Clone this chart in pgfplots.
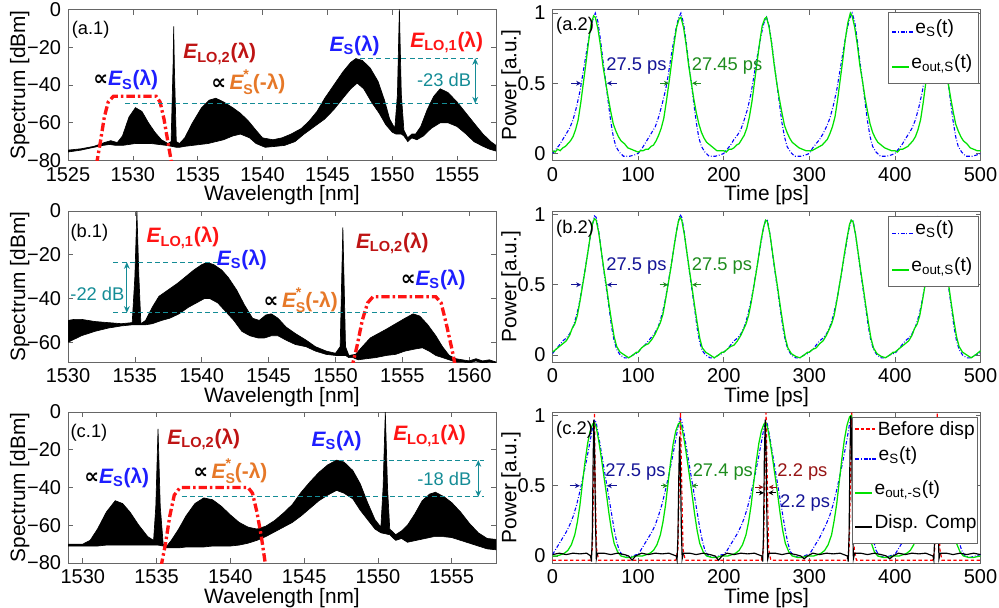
\documentclass[border=0pt]{standalone}
\usepackage{fontspec}
\setmainfont{Liberation Sans}
\newfontfamily\dejavu{DejaVu Sans}
\usepackage{pgfplots}
\pgfplotsset{compat=1.18}
\usetikzlibrary{arrows.meta}

\definecolor{esblue}{RGB}{30,30,255}
\definecolor{lotwo}{RGB}{190,20,20}
\definecolor{loone}{RGB}{255,20,20}
\definecolor{esorange}{RGB}{230,120,40}
\definecolor{tealc}{RGB}{20,140,150}
\definecolor{navyc}{RGB}{20,20,150}
\definecolor{dgreen}{RGB}{30,140,30}
\definecolor{dred}{RGB}{150,20,20}
\definecolor{lgreen}{RGB}{0,225,0}
\definecolor{filt}{RGB}{255,20,20}

\newcommand{\elab}{\fontsize{12.5}{14}\selectfont}
\newcommand{\tlab}{\fontsize{11}{13}\selectfont}
\newcommand{\legf}{\fontsize{11.5}{13}\selectfont}
\newcommand{\EL}[1]{{\bfseries\itshape E}{\bfseries\textsubscript{LO,#1}(λ)}}
\newcommand{\ES}{{\bfseries\itshape E}{\bfseries\textsubscript{S}(λ)}}
\newcommand{\ESc}{{\bfseries\itshape E}{\bfseries\raisebox{-0.45ex}{\fontsize{8.5}{8.5}\selectfont\shortstack[l]{*\\S}}(-λ)}}
\newcommand{\prop}{{\dejavu\bfseries ∝}}
% legend samples made of rules (coloured like text)
\newcommand{\lsolid}[1]{\textcolor{#1}{\rule[0.3pt]{10pt}{1.2pt}}}
\newcommand{\ldash}[1]{\textcolor{#1}{\rule[0.3em]{2pt}{1.1pt}\hspace{1.3pt}\rule[0.3em]{2pt}{1.1pt}\hspace{1.3pt}\rule[0.3em]{2pt}{1.1pt}\hspace{1.3pt}\rule[0.3em]{2pt}{1.1pt}}}
\newcommand{\ldashdot}[1]{\textcolor{#1}{\rule[0.3pt]{2.4pt}{1.1pt}\hspace{0.9pt}\rule[0.3pt]{0.8pt}{1.1pt}\hspace{0.9pt}\rule[0.3pt]{2.4pt}{1.1pt}\hspace{0.9pt}\rule[0.3pt]{0.8pt}{1.1pt}\hspace{0.9pt}\rule[0.3pt]{2.4pt}{1.1pt}}}

\tikzset{
  filter/.style={draw=filt, line width=2pt, dash pattern=on 5pt off 1.8pt on 1.5pt off 1.8pt},
  tdash/.style={tealc, line width=0.6pt, dash pattern=on 3pt off 2pt},
  tarr/.style={tealc, line width=0.6pt, {Stealth[length=4pt,width=3.5pt]}-{Stealth[length=4pt,width=3.5pt]}},
  fw/.style={line width=0.6pt, -{Stealth[length=3pt,width=3pt]}},
  bluel/.style={draw=blue, line width=0.65pt, dash pattern=on 2.2pt off 1.1pt on 0.5pt off 1.1pt},
  greenl/.style={draw=lgreen, line width=0.75pt},
  redl/.style={draw=red, line width=0.7pt, dash pattern=on 2pt off 1.5pt},
  blackl/.style={draw=black, line width=0.7pt},
  ann/.style={inner sep=0.5pt},
  legbox/.style={draw=black!60, fill=white, line width=0.4pt},
  legtxt/.style={anchor=base west, inner sep=0pt, font=\legf},
}

\pgfplotsset{
  panel/.style={
    scale only axis, width=256.8pt, height=90.6pt,
    axis line style={black!60, line width=0.4pt},
    every tick/.style={black!60, line width=0.4pt},
    major tick length=3pt, tick align=inside,
    ticklabel style={font=\fontsize{12}{13}\selectfont},
    xticklabel style={inner sep=1pt, yshift=-3pt},
    yticklabel style={inner sep=1pt, xshift=-3pt},
    label style={font=\fontsize{12.5}{14}\selectfont},
    xlabel style={at={(axis description cs:0.5,-0.23)}, anchor=center},
    /pgf/number format/assume math mode=true,
    /pgf/number format/1000 sep={},
  },
  spec/.style={panel, xlabel={Wavelength [nm]}, ylabel={Spectrum [dBm]},
    ylabel style={at={(axis description cs:-0.113,0.5)}, anchor=center}},
  timep/.style={panel, xmin=0, xmax=500, ymin=-0.05, ymax=1.025,
    xtick={0,100,200,300,400,500}, ytick={0,0.5,1},
    xlabel={Time [ps]}, ylabel={Power [a.u.]},
    ylabel style={at={(axis description cs:-0.097,0.5)}, anchor=center}},
}

\begin{document}
\begin{tikzpicture}
\path[use as bounding box] (0,0) rectangle (599.4pt,-364.2pt);

% ---------------- (a.1)
\begin{axis}[spec, at={(40.8pt,-96.3pt)}, anchor=south west,
  xmin=1525, xmax=1558, ymin=-80, ymax=0,
  xtick={1525,1530,1535,1540,1545,1550,1555},
  ytick={-80,-60,-40,-20,0}, yticklabels={−80,−60,−40,−20,0}]
\addplot[fill=black, draw=black, line width=0.4pt] coordinates {
(1525,-74.5)(1526,-73.8)(1527,-72.5)(1527.8,-70.5)(1528.3,-69.5)(1528.8,-70.5)(1529.2,-67)(1529.7,-57)(1530.2,-52)(1530.7,-54)(1531.2,-60)(1531.7,-65)(1532.2,-69)(1532.7,-71)(1532.95,-70)(1533.1,-30)(1533.15,-9)(1533.2,-30)(1533.35,-70)(1533.6,-71)(1534,-68)(1534.6,-60)(1535.3,-52)(1535.9,-48)(1536.4,-47)(1537,-49)(1537.7,-52)(1538.3,-55)(1538.9,-59)(1539.5,-64)(1540,-68)(1540.8,-69)(1541.5,-68)(1542.2,-66)(1543,-63)(1543.6,-59)(1544.2,-54)(1544.8,-47)(1545.5,-40)(1546.2,-33)(1546.8,-28)(1547.2,-26)(1547.7,-27)(1548.3,-31)(1548.9,-38)(1549.4,-48)(1549.8,-58)(1550.2,-63)(1550.4,-45)(1550.55,0)(1550.7,-45)(1550.9,-64)(1551.2,-68)(1551.5,-66)(1551.8,-66)(1552.2,-62)(1552.7,-53)(1553.2,-46)(1553.7,-42)(1554.3,-44)(1555,-49)(1555.7,-55)(1556.4,-61)(1557,-66)(1557.6,-70)(1558,-72)
(1558,-75)(1557.5,-74)(1557,-72.5)(1556.3,-70)(1555.7,-66)(1555,-62)(1554.3,-60)(1553.7,-60)(1553,-63)(1552.4,-67)(1551.9,-69)(1551.5,-68)(1551.2,-70)(1550.9,-67)(1550.7,-66)(1550.3,-66)(1550,-65)(1549.5,-61)(1549,-55)(1548.4,-49)(1547.8,-42)(1547.3,-39)(1546.8,-42)(1546.2,-47)(1545.5,-53)(1544.8,-58)(1544,-62)(1543.2,-66)(1542.5,-70)(1541.7,-72)(1541,-72.5)(1540.2,-73)(1539.5,-71)(1539,-68)(1538.3,-66)(1537.7,-67)(1537,-69)(1536.4,-70)(1535.8,-71)(1535.2,-71.5)(1534.6,-72)(1534,-72.5)(1533.6,-73)(1533.35,-73)(1533.0,-72.5)(1532.6,-72)(1532,-71.5)(1531.4,-71)(1530.8,-71)(1530.2,-71)(1529.7,-71.5)(1529.2,-72)(1528.7,-72)(1528.2,-71.5)(1527.7,-72)(1527,-73)(1526,-74.5)(1525,-75.5)
} -- cycle;
\addplot[filter] coordinates {(1527.2,-82)(1527.5,-70)(1527.8,-57)(1528.1,-49)(1528.5,-46)(1531.8,-46)(1532.1,-49)(1532.4,-58)(1532.7,-70)(1533.0,-82)};
\draw[tdash] (axis cs:1547.5,-25.8) -- (axis cs:1556.6,-25.8);
\draw[tdash] (axis cs:1529.4,-49.8) -- (axis cs:1556.6,-49.8);
\draw[tarr] (axis cs:1556.4,-25.8) -- (axis cs:1556.4,-49.8);
\node[ann, font=\tlab, text=tealc] at (axis cs:1554,-37.2) {-23 dB};
\node[ann, font=\tlab, anchor=west] at (axis cs:1525.2,-10.5) {(a.1)};
\node[ann, font=\elab, text=lotwo] at (axis cs:1536.7,-23.5) {\EL{2}};
\node[ann, font=\elab] at (axis cs:1538.9,-38.6) {\prop\,\textcolor{esorange}{\ESc}};
\node[ann, font=\elab] at (axis cs:1529.45,-37.5) {\prop\textcolor{esblue}{\ES}};
\node[ann, font=\elab, text=esblue] at (axis cs:1547.1,-19) {\ES};
\node[ann, font=\elab, text=loone] at (axis cs:1554.2,-17.4) {\EL{1}};
\end{axis}

% ---------------- (a.2)
\begin{axis}[timep, at={(331.5pt,-96.3pt)}, anchor=south west]
\addplot[bluel] coordinates {
(0,0.00)(4,0.03)(8,0.06)(12,0.10)(16,0.14)(20,0.18)(24,0.24)(28,0.33)(32,0.44)(35,0.55)(38,0.66)(41,0.77)(44,0.87)(47,0.95)(50,1.00)(53,0.94)(56,0.81)(59,0.66)(62,0.52)(65,0.37)(68,0.23)(71,0.12)(74,0.05)(78,0.01)(83,-0.02)(90,-0.02)(96,-0.01)
(100,0.00)(104,0.03)(108,0.07)(112,0.11)(116,0.15)(120,0.19)(124,0.26)(128,0.35)(132,0.45)(135,0.55)(138,0.67)(141,0.78)(144,0.88)(147,0.96)(150,1.00)(153,0.93)(156,0.80)(159,0.65)(162,0.51)(165,0.36)(168,0.22)(171,0.11)(174,0.05)(178,0.01)(183,-0.02)(190,-0.02)(196,-0.01)
(200,0.00)(204,0.03)(208,0.06)(212,0.10)(216,0.13)(220,0.17)(224,0.24)(228,0.32)(232,0.43)(235,0.54)(238,0.65)(241,0.75)(244,0.85)(247,0.93)(250,0.97)(253,0.91)(256,0.79)(259,0.64)(262,0.50)(265,0.36)(268,0.22)(271,0.12)(274,0.05)(278,0.01)(283,-0.02)(290,-0.02)(296,-0.01)
(300,0.00)(304,0.04)(308,0.07)(312,0.10)(316,0.14)(320,0.19)(324,0.25)(328,0.34)(332,0.45)(335,0.56)(338,0.67)(341,0.78)(344,0.88)(347,0.96)(350,1.00)(353,0.94)(356,0.81)(359,0.66)(362,0.52)(365,0.37)(368,0.23)(371,0.12)(374,0.05)(378,0.01)(383,-0.02)(390,-0.02)(396,-0.01)
(400,0.00)(404,0.03)(408,0.06)(412,0.10)(416,0.14)(420,0.18)(424,0.24)(428,0.33)(432,0.44)(435,0.55)(438,0.66)(441,0.77)(444,0.87)(447,0.95)(450,1.00)(453,0.94)(456,0.81)(459,0.66)(462,0.52)(465,0.37)(468,0.23)(471,0.12)(474,0.05)(478,0.01)(483,-0.02)(490,-0.02)(496,-0.01)(500,0.00)
};
\addplot[greenl] coordinates {
(0,0.02)(3,0.01)(6,0.03)(9,0.02)(12,0.04)(15,0.05)(18,0.07)(21,0.09)(24,0.12)(27,0.17)(30,0.24)(33,0.36)(36,0.50)(39,0.64)(42,0.79)(45,0.92)(48,0.98)(50,0.97)(53,0.89)(56,0.77)(59,0.62)(62,0.51)(65,0.40)(68,0.30)(71,0.21)(74,0.16)(77,0.12)(80,0.09)(84,0.07)(88,0.04)(92,0.03)(96,0.02)
(100,0.01)(103,0.02)(106,0.02)(109,0.03)(112,0.03)(115,0.05)(118,0.06)(121,0.09)(124,0.13)(127,0.18)(130,0.25)(133,0.37)(136,0.50)(139,0.64)(142,0.78)(145,0.90)(148,0.96)(150,0.97)(153,0.90)(156,0.78)(159,0.63)(162,0.51)(165,0.39)(168,0.29)(171,0.21)(174,0.15)(177,0.11)(180,0.08)(184,0.06)(188,0.04)(192,0.02)(196,0.02)
(200,0.02)(203,0.01)(206,0.03)(209,0.03)(212,0.04)(215,0.06)(218,0.07)(221,0.10)(224,0.13)(227,0.18)(230,0.26)(233,0.37)(236,0.51)(239,0.65)(242,0.79)(245,0.91)(248,0.96)(250,0.97)(253,0.90)(256,0.78)(259,0.63)(262,0.50)(265,0.39)(268,0.29)(271,0.20)(274,0.15)(277,0.11)(280,0.08)(284,0.06)(288,0.04)(292,0.03)(296,0.02)
(300,0.02)(303,0.02)(306,0.03)(309,0.04)(312,0.05)(315,0.06)(318,0.08)(321,0.10)(324,0.14)(327,0.19)(330,0.26)(333,0.38)(336,0.52)(339,0.66)(342,0.81)(345,0.93)(348,1.00)(350,0.98)(353,0.90)(356,0.78)(359,0.63)(362,0.52)(365,0.40)(368,0.30)(371,0.21)(374,0.15)(377,0.11)(380,0.08)(384,0.06)(388,0.04)(392,0.03)(396,0.02)
(400,0.02)(403,0.01)(406,0.03)(409,0.03)(412,0.04)(415,0.05)(418,0.07)(421,0.09)(424,0.12)(427,0.17)(430,0.24)(433,0.36)(436,0.50)(439,0.64)(442,0.79)(445,0.92)(448,0.98)(450,0.97)(453,0.89)(456,0.77)(459,0.62)(462,0.51)(465,0.40)(468,0.30)(471,0.21)(474,0.16)(477,0.12)(480,0.09)(484,0.07)(488,0.04)(492,0.03)(496,0.02)(500,0.02)
};
\node[ann, font=\tlab, anchor=west] at (axis cs:3,0.91) {(a.2)};
\node[ann, font=\tlab, text=navyc] at (axis cs:98,0.62) {27.5 ps};
\draw[fw, navyc] (axis cs:22,0.5) -- (axis cs:33.5,0.5);
\draw[fw, navyc] (axis cs:75,0.5) -- (axis cs:63.5,0.5);
\node[ann, font=\tlab, text=dgreen] at (axis cs:204,0.62) {27.45 ps};
\draw[fw, dgreen] (axis cs:126,0.5) -- (axis cs:136,0.5);
\draw[fw, dgreen] (axis cs:173,0.5) -- (axis cs:163,0.5);
% legend
\path[legbox] (rel axis cs:0.784,0.513) rectangle (rel axis cs:0.994,0.983);
\node[legtxt] at (rel axis cs:0.793,0.842) {\ldashdot{blue}\hspace{1.5pt}e\textsubscript{S}(t)};
\node[legtxt] at (rel axis cs:0.793,0.61) {\lsolid{lgreen}\hspace{1.5pt}e\textsubscript{out,S}(t)};
\end{axis}

% ---------------- (b.1)
\begin{axis}[spec, at={(40.8pt,-217.2pt)}, anchor=south west,
  xmin=1530, xmax=1562, ymin=-69, ymax=0,
  xtick={1530,1535,1540,1545,1550,1555,1560},
  ytick={-60,-40,-20,0}, yticklabels={−60,−40,−20,0}]
\addplot[fill=black, draw=black, line width=0.4pt] coordinates {
(1530,-50)(1530.5,-49.5)(1531,-49.5)(1532,-50.5)(1533,-51)(1534,-51.5)(1534.8,-51)(1535.0,-30)(1535.15,0)(1535.3,-30)(1535.45,-51.5)(1535.8,-50)(1536.3,-44)(1536.8,-39)(1537.5,-36)(1538.2,-33)(1538.8,-30)(1539.4,-27)(1540,-24.5)(1540.4,-23.5)(1540.9,-24.5)(1541.5,-27)(1542,-30.5)(1542.6,-36)(1543.2,-43)(1543.8,-49)(1544.3,-50)(1544.8,-47.5)(1545.2,-47)(1545.7,-49)(1546.3,-53)(1547,-56)(1547.8,-59)(1548.5,-62)(1549.3,-64)(1550,-65)(1550.35,-62)(1550.55,-7.5)(1550.75,-62)(1551,-66)(1551.5,-65.5)(1552,-62)(1552.6,-58)(1553.2,-56)(1553.8,-54)(1554.5,-51.5)(1555.2,-49)(1555.8,-47)(1556.3,-48)(1556.9,-52)(1557.5,-57)(1558,-62)(1558.5,-66)(1559,-67.5)(1559.5,-68)(1560,-68.5)(1560.5,-67.5)(1561,-68.5)(1561.5,-68)(1562,-69)
(1562,-69.5)(1561.5,-69)(1561,-69.5)(1560.5,-68.5)(1560,-69.5)(1559.5,-69)(1559,-69)(1558.5,-68)(1558,-67)(1557.5,-66)(1557,-64)(1556.5,-62.5)(1556,-63)(1555.2,-64)(1554.5,-65.5)(1553.8,-66)(1553,-67)(1552.3,-67.5)(1551.7,-68)(1551.3,-67)(1551,-67)(1550.75,-66)(1550.35,-66)(1550,-66)(1549.3,-65.5)(1548.5,-64)(1547.8,-62)(1547,-61)(1546.3,-59)(1545.7,-57)(1545.2,-57)(1544.7,-58)(1544.2,-58)(1543.6,-57)(1543,-55)(1542.4,-50)(1541.8,-46)(1541.2,-42)(1540.6,-40)(1540.2,-40)(1539.6,-42)(1539,-44)(1538.3,-47)(1537.6,-49)(1537,-50)(1536.3,-51.5)(1535.8,-52)(1535.45,-52)(1535.3,-52)(1535,-52)(1534.8,-52)(1534,-52.5)(1533,-53.5)(1532,-55)(1531,-57)(1530,-60)
} -- cycle;
\addplot[filter] coordinates {(1551.2,-72)(1551.6,-62)(1552.0,-50)(1552.4,-42)(1552.8,-39.2)(1557.5,-39.2)(1557.9,-42)(1558.3,-52)(1558.7,-63)(1559.0,-72)};
\draw[tdash] (axis cs:1533.4,-23.4) -- (axis cs:1541.4,-23.4);
\draw[tdash] (axis cs:1533.4,-46.5) -- (axis cs:1557,-46.5);
\draw[tarr] (axis cs:1534.4,-23.4) -- (axis cs:1534.4,-46.5);
\node[ann, font=\tlab, text=tealc] at (axis cs:1532.2,-37.7) {-22 dB};
\node[ann, font=\tlab, anchor=west] at (axis cs:1530.1,-10) {(b.1)};
\node[ann, font=\elab, text=loone] at (axis cs:1538.6,-12.3) {\EL{1}};
\node[ann, font=\elab, text=esblue] at (axis cs:1543,-22.3) {\ES};
\node[ann, font=\elab] at (axis cs:1547.4,-40.8) {\prop\,\textcolor{esorange}{\ESc}};
\node[ann, font=\elab, text=lotwo] at (axis cs:1554.25,-14.6) {\EL{2}};
\node[ann, font=\elab] at (axis cs:1557.3,-31.5) {\prop\textcolor{esblue}{\ES}};
\end{axis}

% ---------------- (b.2)
\begin{axis}[timep, at={(331.5pt,-217.2pt)}, anchor=south west]
\addplot[bluel] coordinates {
(0,0.01)(4,0.04)(8,0.07)(12,0.10)(16,0.12)(20,0.15)(24,0.20)(28,0.28)(31,0.36)(34,0.46)(37,0.57)(40,0.68)(43,0.80)(46,0.91)(49,0.99)(51,0.98)(54,0.88)(57,0.74)(60,0.60)(63,0.47)(66,0.34)(69,0.20)(72,0.10)(75,0.04)(79,0.00)(84,-0.02)(89,-0.02)(94,0.00)(98,0.01)
(100,0.02)(104,0.05)(108,0.07)(112,0.10)(116,0.13)(120,0.16)(124,0.21)(128,0.29)(131,0.37)(134,0.47)(137,0.58)(140,0.69)(143,0.81)(146,0.92)(149,1.00)(151,0.98)(154,0.87)(157,0.73)(160,0.59)(163,0.46)(166,0.33)(169,0.19)(172,0.09)(175,0.03)(179,0.00)(184,-0.02)(189,-0.02)(194,0.00)(198,0.01)
(200,0.02)(204,0.04)(208,0.07)(212,0.10)(216,0.12)(220,0.15)(224,0.20)(228,0.28)(231,0.36)(234,0.45)(237,0.56)(240,0.67)(243,0.78)(246,0.89)(249,0.96)(251,0.96)(254,0.86)(257,0.72)(260,0.59)(263,0.46)(266,0.33)(269,0.20)(272,0.10)(275,0.04)(279,0.00)(284,-0.02)(289,-0.02)(294,0.00)(298,0.01)
(300,0.02)(304,0.04)(308,0.07)(312,0.10)(316,0.12)(320,0.15)(324,0.20)(328,0.28)(331,0.36)(334,0.45)(337,0.56)(340,0.67)(343,0.78)(346,0.89)(349,0.96)(351,0.96)(354,0.86)(357,0.72)(360,0.59)(363,0.46)(366,0.33)(369,0.20)(372,0.10)(375,0.04)(379,0.00)(384,-0.02)(389,-0.02)(394,0.00)(398,0.01)
(400,0.01)(404,0.04)(408,0.07)(412,0.10)(416,0.12)(420,0.15)(424,0.20)(428,0.28)(431,0.36)(434,0.46)(437,0.57)(440,0.68)(443,0.80)(446,0.91)(449,0.99)(451,0.98)(454,0.88)(457,0.74)(460,0.60)(463,0.47)(466,0.34)(469,0.20)(472,0.10)(475,0.04)(479,0.00)(484,-0.02)(489,-0.02)(494,0.00)(498,0.01)(500,0.02)
};
\addplot[greenl] coordinates {
(0,0.02)(4,0.04)(8,0.06)(12,0.08)(16,0.10)(20,0.14)(23,0.19)(26,0.22)(29,0.28)(32,0.38)(35,0.49)(38,0.60)(41,0.72)(44,0.84)(47,0.94)(49,0.97)(51,0.96)(54,0.87)(57,0.74)(60,0.61)(63,0.49)(66,0.36)(69,0.24)(72,0.13)(75,0.06)(79,0.02)(84,0.00)(89,-0.02)(94,0.00)(98,0.02)
(100,0.02)(104,0.05)(108,0.07)(112,0.08)(116,0.11)(120,0.15)(123,0.19)(126,0.23)(129,0.29)(132,0.39)(135,0.50)(138,0.61)(141,0.73)(144,0.85)(147,0.95)(149,0.98)(151,0.96)(154,0.86)(157,0.73)(160,0.60)(163,0.48)(166,0.35)(169,0.23)(172,0.12)(175,0.05)(179,0.02)(184,0.00)(189,-0.02)(194,0.00)(198,0.02)
(200,0.02)(204,0.04)(208,0.06)(212,0.07)(216,0.10)(220,0.14)(223,0.18)(226,0.22)(229,0.28)(232,0.37)(235,0.48)(238,0.59)(241,0.71)(244,0.83)(247,0.92)(249,0.96)(251,0.95)(254,0.86)(257,0.73)(260,0.60)(263,0.48)(266,0.35)(269,0.23)(272,0.12)(275,0.05)(279,0.01)(284,-0.01)(289,-0.02)(294,0.00)(298,0.02)
(300,0.02)(304,0.04)(308,0.05)(312,0.08)(316,0.10)(320,0.14)(323,0.18)(326,0.22)(329,0.28)(332,0.38)(335,0.49)(338,0.60)(341,0.72)(344,0.83)(347,0.93)(349,0.96)(351,0.95)(354,0.86)(357,0.73)(360,0.60)(363,0.48)(366,0.35)(369,0.23)(372,0.12)(375,0.05)(379,0.01)(384,-0.01)(389,-0.02)(394,0.00)(398,0.02)
(400,0.02)(404,0.04)(408,0.06)(412,0.08)(416,0.10)(420,0.14)(423,0.19)(426,0.22)(429,0.28)(432,0.38)(435,0.49)(438,0.60)(441,0.72)(444,0.84)(447,0.94)(449,0.97)(451,0.96)(454,0.87)(457,0.74)(460,0.61)(463,0.49)(466,0.36)(469,0.24)(472,0.13)(475,0.06)(479,0.02)(484,0.00)(489,-0.02)(494,0.00)(498,0.02)(500,0.03)
};
\node[ann, font=\tlab, anchor=west] at (axis cs:3,0.9) {(b.2)};
\node[ann, font=\tlab, text=navyc] at (axis cs:98,0.63) {27.5 ps};
\draw[fw, navyc] (axis cs:22,0.5) -- (axis cs:33.5,0.5);
\draw[fw, navyc] (axis cs:75,0.5) -- (axis cs:63.5,0.5);
\node[ann, font=\tlab, text=dgreen] at (axis cs:198,0.63) {27.5 ps};
\draw[fw, dgreen] (axis cs:125,0.5) -- (axis cs:135,0.5);
\draw[fw, dgreen] (axis cs:174,0.5) -- (axis cs:163,0.5);
% legend
\path[legbox] (rel axis cs:0.784,0.5) rectangle (rel axis cs:0.994,0.964);
\node[legtxt] at (rel axis cs:0.793,0.842) {\ldashdot{blue}\hspace{1.5pt}e\textsubscript{S}(t)};
\node[legtxt] at (rel axis cs:0.793,0.601) {\lsolid{lgreen}\hspace{1.5pt}e\textsubscript{out,S}(t)};
\end{axis}

% ---------------- (c.1)
\begin{axis}[spec, at={(40.8pt,-337.8pt)}, anchor=south west,
  xmin=1529, xmax=1558, ymin=-80, ymax=0,
  xtick={1530,1535,1540,1545,1550,1555},
  ytick={-80,-60,-40,-20,0}, yticklabels={−80,−60,−40,−20,0}]
\addplot[fill=black, draw=black, line width=0.4pt] coordinates {
(1529,-70)(1530,-70)(1530.5,-68)(1531,-62)(1531.6,-53)(1532.2,-47)(1532.7,-48.5)(1533.2,-53)(1533.8,-60)(1534.4,-66)(1534.8,-68)(1534.95,-50)(1535.1,-9)(1535.25,-50)(1535.45,-70)(1535.7,-71)(1536,-68)(1536.5,-62)(1537,-55)(1537.6,-48.5)(1538.2,-45.5)(1538.8,-46.5)(1539.4,-50)(1540,-54.5)(1540.6,-58.5)(1541.2,-61)(1541.8,-62)(1542.4,-60.5)(1543,-57.5)(1543.6,-53.5)(1544.2,-49)(1544.8,-42.5)(1545.4,-37)(1546,-32)(1546.6,-28)(1547.2,-25.5)(1547.7,-26.5)(1548.3,-31)(1548.8,-38)(1549.3,-48)(1549.8,-57)(1550.2,-61)(1550.35,-40)(1550.5,0)(1550.65,-40)(1550.8,-62)(1551.2,-65)(1551.6,-63)(1552,-60)(1552.5,-54)(1553,-47)(1553.5,-43.5)(1553.9,-42.5)(1554.5,-45)(1555,-48)(1555.6,-53)(1556.2,-59)(1556.8,-64)(1557.4,-67)(1558,-67.5)
(1558,-73)(1557.4,-72.5)(1556.8,-71)(1556.2,-69.5)(1555.6,-68)(1555,-66.5)(1554.4,-66)(1553.8,-66)(1553.2,-67)(1552.6,-68)(1552,-69)(1551.6,-67)(1551.2,-68)(1550.8,-65)(1550.2,-64)(1549.8,-62)(1549.3,-57)(1548.8,-52)(1548.3,-46)(1547.7,-43)(1547.2,-41.5)(1546.6,-44)(1546,-47)(1545.4,-51)(1544.8,-55)(1544.2,-58.5)(1543.6,-61)(1543,-63.5)(1542.4,-66)(1541.8,-68)(1541.2,-69.5)(1540.6,-70.5)(1540,-71)(1539.4,-71)(1538.8,-71)(1538.2,-71.5)(1537.6,-71.5)(1537,-71.5)(1536.5,-72)(1536,-72)(1535.7,-72)(1535.45,-71)(1535.1,-70.5)(1534.8,-70.5)(1534.4,-70.5)(1533.8,-70.5)(1533.2,-70.5)(1532.7,-70.5)(1532.2,-70.5)(1531.6,-70.5)(1531,-71)(1530.5,-71)(1530,-71)(1529,-71)
} -- cycle;
\addplot[filter] coordinates {(1535.3,-82)(1535.6,-70)(1535.9,-55)(1536.2,-44)(1536.6,-40)(1541.2,-40)(1541.5,-43)(1541.8,-53)(1542.1,-66)(1542.4,-82)};
\draw[tdash] (axis cs:1546.2,-25.5) -- (axis cs:1557.2,-25.5);
\draw[tdash] (axis cs:1536.7,-45) -- (axis cs:1557.2,-45);
\draw[tarr] (axis cs:1556.8,-25.5) -- (axis cs:1556.8,-45);
\node[ann, font=\tlab, text=tealc] at (axis cs:1554.5,-35.6) {-18 dB};
\node[ann, font=\tlab, anchor=west] at (axis cs:1529.1,-10.8) {(c.1)};
\node[ann, font=\elab] at (axis cs:1532.3,-34.7) {\prop\textcolor{esblue}{\ES}};
\node[ann, font=\elab, text=lotwo] at (axis cs:1538.2,-14.3) {\EL{2}};
\node[ann, font=\elab] at (axis cs:1540,-31.5) {\prop\,\textcolor{esorange}{\ESc}};
\node[ann, font=\elab, text=esblue] at (axis cs:1547.2,-15.2) {\ES};
\node[ann, font=\elab, text=loone] at (axis cs:1553.5,-12.6) {\EL{1}};
\end{axis}

% ---------------- (c.2)
\begin{axis}[timep, at={(331.5pt,-337.8pt)}, anchor=south west]
\addplot[redl] coordinates {
(0,-0.03)(44,-0.03)(46.5,0.05)(48,0.5)(49,1.02)(50,0.5)(51.5,0.05)(54,-0.03)(144,-0.03)(146.5,0.05)(148,0.5)(149.5,1.02)(151,0.5)(152.5,0.05)(155,-0.03)(244,-0.03)(246.5,0.05)(248,0.5)(249.5,1.02)(251,0.5)(252.5,0.05)(255,-0.03)(344,-0.03)(346.5,0.05)(348,0.5)(349.5,1.02)(351,0.5)(352.5,0.05)(355,-0.03)(444,-0.03)(446.5,0.05)(448,0.5)(449.5,1.02)(451,0.5)(452.5,0.05)(455,-0.03)(500,-0.03)
};
\addplot[bluel] coordinates {
(0,0.01)(4,0.05)(8,0.09)(12,0.13)(16,0.17)(20,0.22)(24,0.28)(28,0.36)(32,0.46)(36,0.57)(40,0.69)(44,0.82)(47,0.92)(49,0.97)(51,0.95)(54,0.85)(57,0.74)(60,0.63)(63,0.52)(66,0.41)(69,0.30)(72,0.19)(75,0.10)(78,0.04)(82,0.00)(88,-0.01)(94,0.00)(98,0.01)
(100,0.01)(104,0.05)(108,0.09)(112,0.13)(116,0.17)(120,0.22)(124,0.29)(128,0.37)(132,0.47)(136,0.58)(140,0.70)(144,0.83)(147,0.93)(149,0.98)(151,0.96)(154,0.86)(157,0.75)(160,0.64)(163,0.53)(166,0.42)(169,0.31)(172,0.20)(175,0.11)(178,0.04)(182,0.00)(188,-0.01)(194,0.00)(198,0.01)
(200,0.01)(204,0.04)(208,0.08)(212,0.12)(216,0.16)(220,0.21)(224,0.27)(228,0.35)(232,0.45)(236,0.56)(240,0.68)(244,0.81)(247,0.91)(249,0.96)(251,0.94)(254,0.84)(257,0.73)(260,0.62)(263,0.51)(266,0.40)(269,0.29)(272,0.18)(275,0.09)(278,0.03)(282,0.00)(288,-0.01)(294,0.00)(298,0.01)
(300,0.01)(304,0.05)(308,0.09)(312,0.13)(316,0.18)(320,0.23)(324,0.29)(328,0.37)(332,0.47)(336,0.58)(340,0.70)(344,0.83)(347,0.94)(349,0.99)(351,0.96)(354,0.86)(357,0.75)(360,0.64)(363,0.53)(366,0.42)(369,0.31)(372,0.20)(375,0.11)(378,0.04)(382,0.00)(388,-0.01)(394,0.00)(398,0.01)
(400,0.01)(404,0.05)(408,0.09)(412,0.13)(416,0.17)(420,0.22)(424,0.28)(428,0.36)(432,0.46)(436,0.57)(440,0.69)(444,0.82)(447,0.92)(449,0.97)(451,0.95)(454,0.85)(457,0.74)(460,0.63)(463,0.52)(466,0.41)(469,0.30)(472,0.19)(475,0.10)(478,0.04)(482,0.00)(488,-0.01)(494,0.00)(500,0.01)
};
\addplot[greenl] coordinates {
(0,0.00)(5,0.00)(10,0.01)(14,0.02)(18,0.04)(22,0.08)(26,0.15)(29,0.24)(32,0.36)(35,0.52)(38,0.67)(41,0.80)(44,0.89)(47,0.94)(49,0.95)(51,0.92)(54,0.82)(57,0.70)(60,0.57)(63,0.44)(66,0.30)(69,0.18)(72,0.09)(76,0.03)(80,0.00)(86,-0.01)(92,-0.01)(97,0.00)
(100,0.00)(105,0.00)(110,0.01)(114,0.02)(118,0.04)(122,0.08)(126,0.15)(129,0.24)(132,0.36)(135,0.52)(138,0.67)(141,0.80)(144,0.89)(147,0.94)(149,0.95)(151,0.92)(154,0.82)(157,0.70)(160,0.57)(163,0.44)(166,0.30)(169,0.18)(172,0.09)(176,0.03)(180,0.00)(186,-0.01)(192,-0.01)(197,0.00)
(200,0.00)(205,0.00)(210,0.01)(214,0.02)(218,0.04)(222,0.08)(226,0.15)(229,0.24)(232,0.36)(235,0.52)(238,0.67)(241,0.80)(244,0.89)(247,0.94)(249,0.95)(251,0.92)(254,0.82)(257,0.70)(260,0.57)(263,0.44)(266,0.30)(269,0.18)(272,0.09)(276,0.03)(280,0.00)(286,-0.01)(292,-0.01)(297,0.00)
(300,0.00)(305,0.00)(310,0.01)(314,0.02)(318,0.04)(322,0.08)(326,0.15)(329,0.25)(332,0.37)(335,0.53)(338,0.69)(341,0.83)(344,0.93)(347,0.99)(349,1.00)(351,0.96)(354,0.85)(357,0.72)(360,0.58)(363,0.45)(366,0.31)(369,0.19)(372,0.10)(376,0.03)(380,0.00)(386,-0.01)(392,-0.01)(397,0.00)
(400,0.00)(405,0.00)(410,0.01)(414,0.02)(418,0.04)(422,0.08)(426,0.15)(429,0.24)(432,0.36)(435,0.52)(438,0.67)(441,0.80)(444,0.89)(447,0.94)(449,0.95)(451,0.92)(454,0.82)(457,0.70)(460,0.57)(463,0.44)(466,0.30)(469,0.18)(472,0.09)(476,0.03)(480,0.00)(486,-0.01)(492,-0.01)(500,0.00)
};
\addplot[blackl] coordinates {
(0,0.01)(8,0.02)(16,0.01)(24,0.02)(32,0.015)(40,0.02)(44.5,0.0)(45.5,-0.04)(46.5,0.15)(47.5,0.7)(48.3,0.97)(49.2,0.75)(50.2,0.25)(51.2,-0.02)(52.5,0.02)(60,0.02)(68,0.01)(76,0.02)(84,0.01)(89,0.0)(93,-0.03)(97,0.0)
(104,0.02)(112,0.01)(120,0.02)(128,0.015)(136,0.02)(144.5,0.0)(145.5,-0.03)(146.5,0.13)(147.5,0.55)(148.5,0.85)(149.5,0.6)(150.5,0.2)(151.5,-0.02)(153,0.02)(160,0.02)(168,0.01)(176,0.02)(184,0.01)(190,0.0)(194,-0.03)(198,0.0)
(204,0.02)(212,0.01)(220,0.02)(228,0.015)(236,0.02)(244.5,0.0)(245.5,-0.04)(246.5,0.15)(247.5,0.7)(248.5,0.97)(249.5,0.75)(250.5,0.25)(251.5,-0.02)(253,0.02)(260,0.02)(268,0.01)(276,0.02)(284,0.01)(290,0.0)(294,-0.02)(298,0.0)
(304,0.02)(312,0.01)(320,0.02)(328,0.015)(336,0.02)(344.5,0.0)(345.5,-0.04)(346.5,0.16)(347.5,0.72)(348.5,1.0)(349.5,0.78)(350.5,0.26)(351.5,-0.02)(353,0.02)(360,0.02)(368,0.01)(376,0.02)(384,0.01)(390,0.0)(394,-0.02)(398,0.0)
(404,0.02)(412,0.01)(420,0.02)(428,0.015)(436,0.02)(444.5,0.0)(445.5,-0.03)(446.5,0.14)(447.5,0.6)(448.5,0.9)(449.5,0.65)(450.5,0.22)(451.5,-0.02)(453,0.02)(460,0.02)(468,0.01)(476,0.02)(484,0.01)(492,0.02)(500,0.01)
};
\node[ann, font=\tlab, anchor=west] at (axis cs:3,0.9) {(c.2)};
\node[ann, font=\tlab, text=navyc] at (axis cs:97,0.6) {27.5 ps};
\draw[fw, navyc] (axis cs:20,0.5) -- (axis cs:32,0.5);
\draw[fw, navyc] (axis cs:75,0.5) -- (axis cs:63.5,0.5);
\node[ann, font=\tlab, text=dgreen] at (axis cs:199,0.6) {27.4 ps};
\draw[fw, dgreen] (axis cs:127,0.5) -- (axis cs:134.5,0.5);
\draw[fw, dgreen] (axis cs:170,0.5) -- (axis cs:162.5,0.5);
\node[ann, font=\tlab, text=dred] at (axis cs:292,0.6) {2.2 ps};
\draw[fw, dred] (axis cs:237,0.49) -- (axis cs:246.5,0.49);
\draw[fw, dred] (axis cs:262,0.49) -- (axis cs:252.5,0.49);
\draw[fw, black] (axis cs:238,0.45) -- (axis cs:247,0.45);
\draw[fw, black] (axis cs:261,0.45) -- (axis cs:252,0.45);
\node[ann, font=\tlab, text=navyc] at (axis cs:295,0.38) {2.2 ps};
% legend
\path[legbox] (rel axis cs:0.70,0.13) rectangle (rel axis cs:0.992,0.965);
\node[legtxt] at (rel axis cs:0.707,0.846) {\ldash{red}\hspace{1.5pt}Before disp};
\node[legtxt] at (rel axis cs:0.707,0.68) {\ldashdot{blue}\hspace{1.5pt}e\textsubscript{S}(t)};
\node[legtxt] at (rel axis cs:0.707,0.453) {\lsolid{lgreen}\hspace{1.5pt}e\textsubscript{out,-S}(t)};
\node[legtxt] at (rel axis cs:0.707,0.228) {\lsolid{black}\hspace{1.5pt}Disp. Comp};
\end{axis}
\end{tikzpicture}
\end{document}
